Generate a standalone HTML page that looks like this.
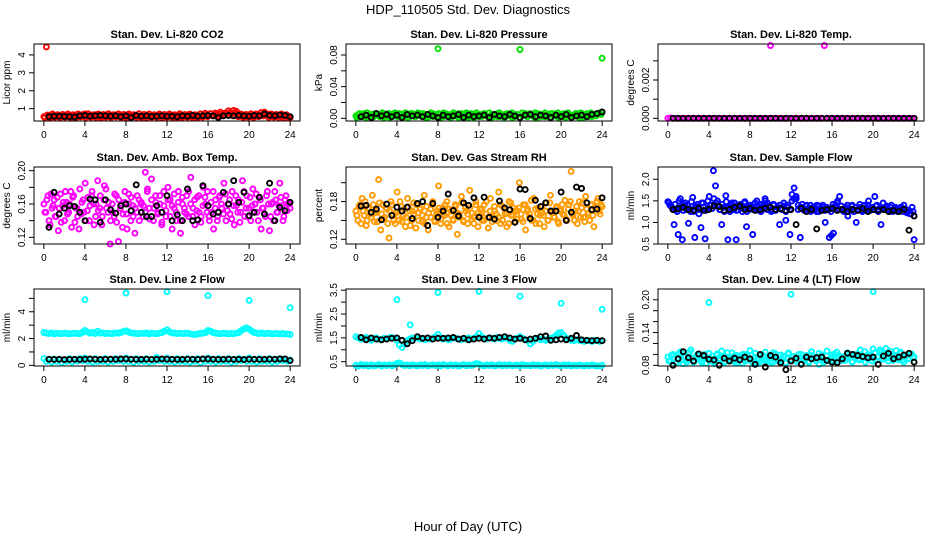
<!DOCTYPE html>
<html><head><meta charset="utf-8"><title>HDP_110505 Std. Dev. Diagnostics</title>
<style>html,body{margin:0;padding:0;background:#fff}svg{display:block;font-family:"Liberation Sans",sans-serif}</style>
</head><body>
<svg id="chart" width="936" height="540" viewBox="0 0 936 540" xmlns="http://www.w3.org/2000/svg">
<rect x="0" y="0" width="936" height="540" fill="#fff"/>
<text x="468" y="14" font-size="13" text-anchor="middle">HDP_110505  Std. Dev. Diagnostics</text>
<text x="468" y="531" font-size="13" text-anchor="middle">Hour of Day (UTC)</text>
</svg>
<script>
// ---- data ----
const xTicks = [0,4,8,12,16,20,24];
const co2Color = [0.55,4.45,0.6,0.55,0.62,0.58,0.6,0.55,0.63,0.6,0.57,0.62,0.6,0.58,0.55,0.65,0.7,0.6,0.62,0.58,0.66,0.6,0.55,0.62,0.6,0.68,0.6,0.62,0.58,0.7,0.62,0.55,0.6,0.58,0.65,0.6,0.62,0.58,0.6,0.55,0.62,0.58,0.6,0.65,0.58,0.6,0.62,0.55,0.6,0.65,0.58,0.6,0.55,0.62,0.6,0.58,0.63,0.6,0.55,0.62,0.6,0.7,0.58,0.62,0.6,0.72,0.6,0.65,0.7,0.68,0.65,0.72,0.88,0.7,0.9,0.85,0.72,0.68,0.6,0.65,0.62,0.6,0.58,0.62,0.65,0.6,0.8,0.7,0.62,0.6,0.65,0.6,0.62,0.58,0.6,0.55,0.5];
const co2Color2 = [0.5,0.65,0.48,0.7,0.52,0.66,0.5,0.68,0.52,0.7,0.5,0.66,0.48,0.7,0.54,0.68,0.5,0.72,0.52,0.66,0.5,0.7,0.48,0.68,0.52,0.72,0.5,0.66,0.54,0.7,0.5,0.68,0.48,0.7,0.52,0.66,0.5,0.72,0.5,0.68,0.48,0.7,0.52,0.66,0.5,0.7,0.48,0.68,0.52,0.7,0.5,0.66,0.48,0.72,0.5,0.68,0.52,0.7,0.5,0.66,0.48,0.7,0.52,0.74,0.55,0.72,0.6,0.75,0.58,0.8,0.6,0.76,0.62,0.78,0.6,0.72,0.55,0.7,0.5,0.68,0.52,0.72,0.5,0.7,0.55,0.78,0.6,0.72,0.5,0.7,0.52,0.68,0.5,0.7,0.48,0.66,0.5];
const co2Black = [0.55,0.57,0.58,0.56,0.55,0.54,0.6,0.62,0.58,0.6,0.62,0.6,0.58,0.6,0.55,0.6,0.5,0.62,0.58,0.6,0.56,0.58,0.6,0.57,0.58,0.55,0.6,0.58,0.62,0.58,0.6,0.62,0.6,0.5,0.6,0.62,0.6,0.62,0.6,0.58,0.62,0.6,0.7,0.62,0.6,0.65,0.62,0.55];
const presColor = [0.003,0.005,0.002,0.006,0.001,0.004,0.005,0.002,0.006,0.003,0.005,0.001,0.004,0.006,0.002,0.005,0.003,0.006,0.001,0.004,0.005,0.002,0.006,0.003,0.004,0.006,0.002,0.005,0.001,0.004,0.006,0.003,0.088,0.005,0.002,0.006,0.004,0.001,0.005,0.003,0.006,0.002,0.004,0.005,0.001,0.006,0.003,0.004,0.002,0.005,0.006,0.003,0.001,0.005,0.004,0.006,0.002,0.004,0.005,0.003,0.006,0.001,0.004,0.005,0.087,0.003,0.006,0.002,0.004,0.005,0.001,0.006,0.003,0.005,0.002,0.004,0.006,0.003,0.005,0.001,0.004,0.006,0.002,0.005,0.003,0.004,0.006,0.001,0.005,0.003,0.006,0.004,0.002,0.005,0.006,0.007,0.076];
const presColor2 = [0.001,0.006,0.004,0.002,0.007,0.003,0.001,0.006,0.004,0.002,0.007,0.003,0.006,0.001,0.004,0.007,0.002,0.005,0.003,0.007,0.001,0.006,0.004,0.002,0.007,0.003,0.006,0.001,0.005,0.007,0.002,0.004,0.006,0.001,0.007,0.003,0.005,0.002,0.007,0.004,0.001,0.006,0.003,0.007,0.002,0.005,0.001,0.007,0.004,0.002,0.006,0.003,0.007,0.001,0.005,0.002,0.007,0.004,0.001,0.006,0.003,0.007,0.002,0.005,0.001,0.007,0.004,0.002,0.006,0.003,0.007,0.001,0.005,0.002,0.007,0.004,0.001,0.006,0.003,0.007,0.002,0.005,0.001,0.007,0.004,0.002,0.006,0.003,0.007,0.001,0.005,0.002,0.007,0.004,0.003,0.006,0.005];
const presBlack = [0.002,0.004,0.001,0.006,0.003,0.005,0.002,0.004,0.001,0.005,0.003,0.004,0.002,0.005,0.003,0.001,0.004,0.002,0.003,0.005,0.001,0.004,0.002,0.003,0.004,0.001,0.005,0.003,0.002,0.005,0.003,0.001,0.004,0.005,0.002,0.004,0.003,0.001,0.004,0.002,0.005,0.001,0.003,0.004,0.002,0.005,0.006,0.008];
const tempColor = [0,0.00002,0,0,0,0,0,0,0,0,0,0,0,0,0,0,0,0,0,0,0,0,0,0,0,0,0,0,0,0,0,0,0,0,0,0,0,0,0,0,0.0038,0,0,0,0,0,0,0,0,0,0,0,0,0,0,0,0,0,0,0,0,0.0038,0,0,0,0,0,0,0,0,0,0,0,0,0,0,0,0,0,0,0,0,0,0,0,0,0,0,0,0,0,0,0,0,0,0,0];
const tempBlack = [0,0,0,0,0,0,0,0,0,0,0,0,0,0,0,0,0,0,0,0,0,0,0,0,0,0,0,0,0,0,0,0,0,0,0,0,0,0,0,0,0,0,0,0,0,0,0,0];
const boxColor = [.160,.150,.170,.135,.155,.165,.145,.128,.172,.158,.140,.162,.150,.175,.168,.138,.155,.130,.148,.165,.185,.152,.140,.170,.160,.145,.188,.155,.135,.165,.178,.150,.112,.160,.145,.170,.115,.155,.132,.162,.148,.172,.140,.158,.125,.150,.165,.160,.145,.198,.175,.155,.190,.140,.162,.150,.170,.135,.158,.145,.180,.165,.130,.155,.140,.175,.125,.160,.150,.170,.145,.192,.155,.135,.168,.150,.145,.180,.160,.175,.140,.150,.130,.165,.145,.170,.155,.185,.140,.160,.148,.175,.135,.158,.165,.150,.188,.145,.170,.155,.140,.178,.160,.150,.168,.130,.155,.145,.175,.128,.160,.140,.165,.150,.185,.158,.145,.170,.160,.155];
const boxColor2 = [.150,.165,.140,.172,.158,.145,.168,.155,.138,.162,.175,.148,.160,.132,.170,.155,.145,.178,.162,.150,.140,.168,.158,.175,.135,.160,.152,.170,.145,.182,.155,.162,.140,.150,.172,.138,.165,.158,.148,.175,.130,.160,.168,.145,.155,.170,.140,.162,.158,.150,.178,.142,.165,.155,.170,.148,.160,.138,.175,.152,.165,.145,.158,.172,.150,.162,.140,.168,.155,.148,.175,.160,.145,.165,.152,.170,.138,.158,.168,.150,.145,.162,.175,.155,.140,.168,.160,.148,.172,.152,.165,.142,.158,.170,.150,.138,.162,.175,.155,.145,.168,.158,.150,.172,.140,.165,.155,.148,.170,.160,.145,.162,.175,.150,.158,.168,.140,.165,.152,.160];
const boxBlack = [.132,.174,.148,.155,.158,.157,.150,.140,.166,.165,.138,.165,.153,.149,.158,.160,.152,.183,.150,.145,.145,.158,.150,.170,.140,.147,.140,.178,.140,.141,.182,.158,.148,.150,.174,.160,.188,.162,.174,.146,.150,.168,.148,.185,.140,.156,.152,.162];
const rhColor = [.165,.150,.175,.185,.158,.142,.170,.160,.190,.148,.165,.215,.135,.175,.155,.168,.122,.180,.160,.145,.195,.150,.172,.158,.140,.185,.165,.150,.178,.138,.162,.170,.148,.190,.155,.135,.168,.175,.150,.160,.205,.145,.170,.158,.180,.140,.165,.152,.175,.128,.160,.188,.150,.170,.145,.198,.162,.155,.180,.140,.168,.150,.175,.160,.138,.185,.155,.165,.150,.195,.145,.172,.160,.140,.180,.158,.170,.148,.165,.210,.152,.175,.135,.168,.160,.150,.185,.145,.170,.158,.162,.140,.178,.150,.190,.165,.155,.172,.145,.168,.160,.182,.150,.175,.228,.158,.165,.145,.180,.170,.155,.188,.160,.150,.175,.140,.168,.185,.160,.172];
const rhColor2 = [.158,.172,.145,.165,.180,.150,.168,.155,.175,.162,.148,.178,.160,.152,.170,.145,.165,.175,.150,.162,.158,.180,.148,.168,.155,.172,.142,.165,.160,.175,.150,.168,.158,.145,.172,.162,.155,.180,.148,.165,.170,.152,.160,.175,.145,.168,.158,.150,.172,.162,.155,.178,.148,.165,.160,.170,.152,.145,.175,.162,.158,.168,.150,.180,.155,.165,.148,.172,.160,.155,.175,.150,.168,.162,.145,.178,.158,.165,.152,.170,.160,.148,.175,.165,.155,.182,.150,.168,.160,.145,.172,.158,.165,.150,.178,.162,.155,.170,.148,.165,.175,.158,.152,.168,.180,.160,.150,.172,.165,.155,.178,.148,.168,.162,.175,.158,.170,.180,.165,.175];
const rhBlack = [.173,.174,.163,.168,.151,.176,.158,.171,.165,.171,.153,.177,.180,.142,.177,.155,.165,.192,.166,.157,.178,.174,.186,.155,.187,.155,.152,.181,.170,.167,.147,.200,.199,.153,.182,.172,.178,.165,.165,.195,.150,.163,.203,.201,.178,.167,.168,.186];
const flowColor = [1.48,1.40,1.35,0.95,1.30,0.72,1.55,0.60,1.40,1.30,0.98,1.25,1.58,0.65,1.35,1.20,0.88,1.45,0.62,1.30,1.60,1.40,2.20,1.85,1.50,1.30,0.95,1.35,1.62,0.60,1.25,1.45,1.30,0.60,1.40,1.35,1.25,1.45,0.90,1.30,1.40,0.72,1.35,1.50,1.30,1.25,1.40,1.55,1.30,1.35,1.25,1.40,1.30,1.35,0.95,1.30,1.45,1.05,1.40,0.72,1.65,1.80,1.55,1.30,0.65,1.35,1.30,1.40,1.30,1.25,1.35,1.30,1.40,1.25,1.30,1.35,1.00,1.30,0.65,0.70,0.75,1.40,1.50,1.60,1.30,1.25,1.35,1.15,1.30,1.40,1.25,1.00,1.30,1.35,1.25,1.40,1.30,1.50,1.35,1.30,1.60,1.40,1.30,0.95,1.45,1.35,1.30,1.25,1.40,1.30,1.35,1.25,1.30,1.35,1.40,1.30,1.25,1.20,1.35,0.60];
const flowColor2 = [1.45,1.38,1.30,1.42,1.25,1.50,1.35,1.28,1.45,1.40,1.32,1.48,1.25,1.38,1.42,1.30,1.45,1.35,1.28,1.50,1.40,1.32,1.55,1.45,1.38,1.30,1.42,1.25,1.48,1.35,1.40,1.30,1.45,1.28,1.38,1.42,1.32,1.48,1.25,1.40,1.35,1.30,1.45,1.38,1.28,1.42,1.35,1.50,1.45,1.38,1.30,1.42,1.28,1.35,1.40,1.32,1.38,1.25,1.35,1.30,1.50,1.55,1.60,1.40,1.35,1.42,1.28,1.38,1.32,1.40,1.30,1.36,1.25,1.38,1.32,1.40,1.28,1.35,1.30,1.25,1.42,1.35,1.45,1.30,1.38,1.28,1.35,1.40,1.32,1.38,1.25,1.35,1.30,1.42,1.28,1.38,1.32,1.40,1.28,1.35,1.30,1.38,1.25,1.35,1.32,1.30,1.38,1.28,1.35,1.25,1.32,1.30,1.28,1.35,1.25,1.30,1.22,1.28,1.20,1.25];
const flowBlack = [1.30,1.32,1.35,1.30,1.28,1.33,1.28,1.30,1.38,1.37,1.28,1.30,1.35,1.38,1.30,1.32,1.28,1.30,1.33,1.35,1.30,1.32,1.28,1.30,0.95,1.32,1.25,1.30,0.85,1.28,1.30,1.32,1.28,1.30,1.25,1.30,1.28,1.32,1.25,1.30,1.28,1.30,1.25,1.28,1.25,1.30,0.82,1.15];
const l2Upper = [2.45,2.40,2.38,2.42,2.35,2.40,2.38,2.36,2.40,2.38,2.35,2.37,2.40,2.38,2.36,2.45,2.60,2.50,2.40,2.45,2.38,2.55,2.40,2.42,2.38,2.40,2.36,2.38,2.42,2.40,2.45,2.52,2.58,2.50,2.42,2.40,2.38,2.36,2.40,2.38,2.42,2.35,2.40,2.38,2.36,2.40,2.45,2.55,2.65,2.50,2.42,2.40,2.38,2.40,2.36,2.38,2.40,2.35,2.32,2.30,2.35,2.38,2.40,2.45,2.60,2.55,2.45,2.40,2.38,2.36,2.40,2.38,2.35,2.38,2.36,2.40,2.45,2.60,2.72,2.80,2.70,2.55,2.45,2.40,2.38,2.42,2.36,2.38,2.40,2.35,2.38,2.36,2.35,2.38,2.35,2.33,2.30];
const l2Lower = [0.5,0.3,0.45,0.25,0.48,0.3,0.42,0.22,0.4,0.3,0.5,0.25,0.45,0.32,0.5,0.35,0.55,0.3,0.44,0.25,0.5,0.28,0.4,0.3,0.52,0.25,0.45,0.3,0.5,0.35,0.46,0.3,0.55,0.3,0.45,0.22,0.5,0.3,0.4,0.3,0.5,0.25,0.45,0.3,0.6,0.35,0.45,0.3,0.55,0.3,0.45,0.25,0.5,0.3,0.4,0.28,0.5,0.25,0.45,0.3,0.5,0.2,0.45,0.3,0.55,0.3,0.45,0.25,0.5,0.3,0.42,0.3,0.5,0.25,0.45,0.3,0.5,0.35,0.45,0.3,0.55,0.3,0.45,0.25,0.5,0.3,0.4,0.3,0.5,0.25,0.45,0.3,0.5,0.35,0.45,0.3,0.4];
const l2OutT = [4,8,12,16,20,24];
const l2OutV = [4.9,5.4,5.5,5.2,4.85,4.3];
const l2Black = [0.45,0.44,0.45,0.43,0.44,0.45,0.44,0.46,0.48,0.45,0.44,0.45,0.46,0.45,0.47,0.48,0.45,0.44,0.45,0.46,0.44,0.45,0.48,0.46,0.45,0.44,0.45,0.46,0.45,0.44,0.48,0.47,0.45,0.44,0.45,0.46,0.44,0.45,0.43,0.46,0.45,0.44,0.45,0.46,0.45,0.47,0.48,0.35];
const l3Upper = [1.55,1.50,1.45,1.48,1.52,1.45,1.40,1.48,1.50,1.45,1.42,1.48,1.45,1.50,1.52,1.48,1.40,1.20,1.10,1.25,1.38,1.45,1.50,1.48,1.52,1.45,1.48,1.42,1.50,1.45,1.48,1.55,1.65,1.50,1.45,1.48,1.42,1.45,1.50,1.48,1.45,1.42,1.48,1.45,1.50,1.45,1.48,1.55,1.68,1.55,1.48,1.45,1.50,1.48,1.45,1.52,1.48,1.45,1.50,1.48,1.40,1.35,1.45,1.50,1.55,1.48,1.42,1.40,1.25,1.35,1.45,1.48,1.42,1.45,1.40,1.45,1.48,1.52,1.60,1.70,1.72,1.60,1.50,1.45,1.40,1.38,1.42,1.40,1.38,1.35,1.40,1.38,1.35,1.40,1.38,1.35,1.38];
const l3Lower = [0.35,0.32,0.38,0.34,0.36,0.31,0.37,0.33,0.35,0.38,0.32,0.36,0.34,0.37,0.33,0.36,0.42,0.45,0.38,0.34,0.36,0.33,0.37,0.35,0.32,0.36,0.34,0.38,0.33,0.35,0.37,0.34,0.36,0.32,0.38,0.35,0.33,0.37,0.34,0.36,0.32,0.35,0.38,0.33,0.36,0.34,0.37,0.42,0.40,0.35,0.33,0.36,0.34,0.37,0.32,0.35,0.38,0.33,0.36,0.34,0.37,0.33,0.35,0.36,0.32,0.38,0.34,0.35,0.33,0.37,0.34,0.36,0.32,0.35,0.37,0.33,0.36,0.34,0.38,0.35,0.33,0.36,0.34,0.37,0.32,0.35,0.33,0.36,0.34,0.32,0.35,0.33,0.36,0.34,0.32,0.33,0.35];
const l3OutT = [4,5.3,8,12,16,20,24];
const l3OutV = [3.1,2.05,3.4,3.45,3.25,2.95,2.7];
const l3Black = [1.52,1.42,1.50,1.45,1.42,1.45,1.48,1.50,1.40,1.25,1.38,1.55,1.48,1.50,1.45,1.48,1.48,1.50,1.52,1.45,1.48,1.42,1.45,1.48,1.45,1.50,1.48,1.52,1.55,1.50,1.45,1.48,1.42,1.45,1.48,1.55,1.58,1.40,1.42,1.45,1.42,1.48,1.60,1.42,1.40,1.38,1.40,1.38];
const l4Color = [.095,.088,.100,.085,.092,.105,.083,.097,.090,.108,.086,.094,.101,.088,.096,.084,.102,.091,.087,.099,.093,.106,.085,.095,.089,.103,.086,.098,.092,.084,.100,.090,.107,.087,.095,.083,.099,.091,.104,.088,.094,.086,.101,.092,.089,.097,.085,.103,.090,.096,.088,.100,.084,.093,.098,.087,.105,.091,.095,.082,.099,.090,.106,.088,.094,.101,.086,.097,.092,.089,.103,.095,.087,.099,.091,.108,.093,.086,.100,.094,.110,.089,.097,.104,.092,.111,.088,.099,.095,.107,.090,.102,.086,.098,.093,.101,.095];
const l4Color2 = [.088,.098,.092,.084,.102,.090,.096,.086,.104,.093,.087,.099,.091,.085,.100,.094,.088,.097,.083,.101,.090,.095,.087,.103,.092,.089,.098,.085,.094,.100,.088,.096,.091,.084,.102,.093,.087,.098,.090,.095,.086,.103,.092,.088,.099,.094,.084,.101,.091,.096,.087,.093,.100,.089,.095,.085,.098,.092,.088,.102,.094,.086,.097,.091,.099,.087,.104,.093,.089,.096,.092,.100,.086,.095,.101,.090,.097,.105,.092,.099,.088,.103,.095,.108,.091,.100,.094,.106,.089,.098,.093,.104,.090,.097,.092,.100,.094];
const l4OutT = [4,12,20];
const l4OutV = [.195,.21,.215];
const l4Black = [.080,.092,.105,.094,.088,.101,.098,.091,.090,.080,.093,.088,.093,.090,.095,.092,.082,.100,.077,.098,.095,.085,.072,.088,.093,.082,.095,.092,.094,.095,.089,.086,.085,.092,.102,.100,.098,.096,.094,.095,.082,.097,.102,.092,.095,.099,.102,.086];
</script>
<script>
const svg = document.getElementById('chart');
const NS = 'http://www.w3.org/2000/svg';
function mk(tag, attrs, parent){ const e=document.createElementNS(NS,tag); for(const k in attrs) e.setAttribute(k,attrs[k]); (parent||svg).appendChild(e); return e; }
const rowTop=[44,167,289], H=77, W=266;
function panel(col,row,name,title,ylab,ymin,ymax,yT,yL,series){
  const g = mk('g',{});
  
  
  const L=34+312*col, T=rowTop[row], B=T+H, R=L+W;
  const xs = h => L + (h+0.96)/25.92*W;
  const ys = v => B - (v-ymin)/(ymax-ymin)*H;
  const t = mk('text',{x:(L+R)/2,y:T-6,'font-size':11,'font-weight':'bold','text-anchor':'middle'},g);
  t.textContent = title;
  
  
  const yt = mk('text',{transform:`translate(${L-24},${(T+B)/2}) rotate(-90)`,'font-size':10,'text-anchor':'middle'},g);
  yt.textContent = ylab;
  
  
  const xa = mk('g',{stroke:'#000','stroke-width':1},g);
  
  
  mk('line',{x1:xs(xTicks[0]),x2:xs(xTicks[xTicks.length-1]),y1:B,y2:B},xa);
  xTicks.forEach(v=>{ mk('line',{x1:xs(v),x2:xs(v),y1:B,y2:B+5},xa);
    const lt=mk('text',{x:xs(v),y:B+17,'font-size':10,'text-anchor':'middle',stroke:'none'},g); lt.textContent=v;
    
     });
  const ya = mk('g',{stroke:'#000','stroke-width':1},g);
  
  
  mk('line',{x1:L,x2:L,y1:ys(yT[0]),y2:ys(yT[yT.length-1])},ya);
  yT.forEach((v,i)=>{ mk('line',{x1:L-5,x2:L,y1:ys(v),y2:ys(v)},ya);
    if(yL[i]!==''){ const lt=mk('text',{transform:`translate(${L-9},${ys(v)}) rotate(-90)`,'font-size':10,'text-anchor':'middle'},g); lt.textContent=yL[i];
      
       } });
  const pts = mk('g',{},g);
  
  
  series.forEach(s=>{
    const n=s.v.length;
    s.v.forEach((v,i)=>{
      const h = s.t ? s.t[i] : s.t0 + i*(s.t1-s.t0)/(n-1);
      const c = mk('circle',{cx:xs(h).toFixed(1),cy:ys(v).toFixed(1),r:2.5,fill:'none',stroke:s.c,'stroke-width':1.9},pts);
      
      
    });
  });
  const box = mk('rect',{x:L,y:T,width:W,height:H,fill:'none',stroke:'#000','stroke-width':1},g);
  
  
}
const bk='#000';
panel(0,0,'co2','Stan. Dev. Li-820 CO2','Licor ppm',0.31,4.61,[1,2,3,4],['1','2','3','4'],
  [{v:co2Color2,t0:0.1,t1:23.9,c:'#ff0000'},{v:co2Color,t0:0,t1:24,c:'#ff0000'},{v:co2Black,t0:0.5,t1:24,c:bk}]);
panel(1,0,'pressure','Stan. Dev. Li-820 Pressure','kPa',-0.0034,0.0939,[0,0.02,0.04,0.06,0.08],['0.00','','0.04','','0.08'],
  [{v:presColor2,t0:0.1,t1:23.9,c:'#00e000'},{v:presColor,t0:0,t1:24,c:'#00e000'},{v:presBlack,t0:0.5,t1:24,c:bk}]);
panel(2,0,'temp','Stan. Dev. Li-820 Temp.','degrees C',-0.00014,0.00388,[0,0.001,0.002,0.003],['0.000','','0.002',''],
  [{v:tempColor,t0:0,t1:24,c:'#ff00ff'},{v:tempBlack,t0:0.5,t1:24,c:bk}]);
panel(0,1,'box-temp','Stan. Dev. Amb. Box Temp.','degrees C',0.112,0.2044,[0.12,0.14,0.16,0.18,0.20],['0.12','','0.16','','0.20'],
  [{v:boxColor,t0:0,t1:24,c:'#ff00ff'},{v:boxColor2,t0:0.1,t1:23.9,c:'#ff00ff'},{v:boxBlack,t0:0.5,t1:24,c:bk}]);
panel(1,1,'gas-rh','Stan. Dev. Gas Stream RH','percent',0.1125,0.235,[0.12,0.15,0.18,0.21],['0.12','','0.18',''],
  [{v:rhColor,t0:0,t1:24,c:'#ff9a00'},{v:rhColor2,t0:0.1,t1:23.9,c:'#ff9a00'},{v:rhBlack,t0:0.5,t1:24,c:bk}]);
panel(2,1,'sample-flow','Stan. Dev. Sample Flow','ml/min',0.5,2.285,[0.5,1.0,1.5,2.0],['0.5','1.0','1.5','2.0'],
  [{v:flowColor,t0:0,t1:24,c:'#0000ff'},{v:flowColor2,t0:0.1,t1:23.9,c:'#0000ff'},{v:flowBlack,t0:0.5,t1:24,c:bk}]);
panel(0,2,'line2-flow','Stan. Dev. Line 2 Flow','ml/min',-0.05,5.7,[0,1,2,3,4,5],['0','','2','','4',''],
  [{v:l2Upper,t0:0,t1:24,c:'#00ffff'},{v:l2Lower,t0:0,t1:24,c:'#00ffff'},{v:l2OutV,t:l2OutT,c:'#00ffff'},{v:l2Black,t0:0.5,t1:24,c:bk}]);
panel(1,2,'line3-flow','Stan. Dev. Line 3 Flow','ml/min',0.32,3.55,[0.5,1,1.5,2,2.5,3,3.5],['0.5','','1.5','','2.5','','3.5'],
  [{v:l3Upper,t0:0,t1:24,c:'#00ffff'},{v:l3Lower,t0:0,t1:24,c:'#00ffff'},{v:l3OutV,t:l3OutT,c:'#00ffff'},{v:l3Black,t0:0.5,t1:24,c:bk}]);
panel(2,2,'line4-flow','Stan. Dev. Line 4 (LT) Flow','ml/min',0.0788,0.2197,[0.08,0.10,0.12,0.14,0.16,0.18,0.20],['0.08','','','0.14','','','0.20'],
  [{v:l4Color,t0:0,t1:24,c:'#00ffff'},{v:l4Color2,t0:0.1,t1:23.9,c:'#00ffff'},{v:l4OutV,t:l4OutT,c:'#00ffff'},{v:l4Black,t0:0.5,t1:24,c:bk}]);
</script>
</body></html>
